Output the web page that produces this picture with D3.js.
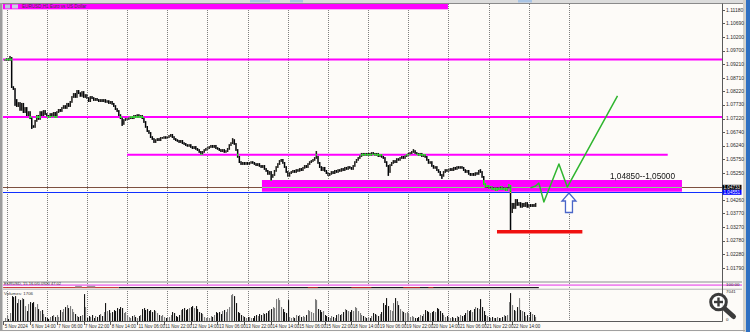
<!DOCTYPE html>
<html>
<head>
<meta charset="utf-8">
<title>EURUSD H1</title>
<script src="https://cdn.jsdelivr.net/npm/d3@7"></script>
<style>
  html, body { margin: 0; padding: 0; background: #fff; overflow: hidden; }
  svg { display: block; font-family: "Liberation Sans", Arial, sans-serif; }
</style>
</head>
<body>
<div id="chart"></div>
<script>
// H1 bars, bar index 0 = 6 Nov 00:00, the first bar drawn is index -1
const firstBar = -1;

const closes = [
  1.0936, 1.0939, 1.0936, 1.0943, 1.0837, 1.0830, 1.0790, 1.0768, 1.0779, 1.0754,
  1.0776, 1.0746, 1.0761, 1.0735, 1.0746, 1.0724, 1.0695, 1.0692, 1.0714, 1.0732,
  1.0721, 1.0746, 1.0735, 1.0750, 1.0739, 1.0732, 1.0728, 1.0739, 1.0732, 1.0743,
  1.0728, 1.0746, 1.0754, 1.0750, 1.0761, 1.0768, 1.0761, 1.0776, 1.0768, 1.0783,
  1.0801, 1.0812, 1.0801, 1.0823, 1.0815, 1.0805, 1.0819, 1.0801, 1.0808, 1.0797,
  1.0786, 1.0801, 1.0797, 1.0790, 1.0794, 1.0790, 1.0786, 1.0790, 1.0786, 1.0790,
  1.0783, 1.0786, 1.0779, 1.0783, 1.0776, 1.0768, 1.0757, 1.0750, 1.0735, 1.0724,
  1.0703, 1.0717, 1.0721, 1.0721, 1.0724, 1.0728, 1.0724, 1.0732, 1.0728, 1.0735,
  1.0728, 1.0732, 1.0724, 1.0710, 1.0692, 1.0677, 1.0670, 1.0655, 1.0648, 1.0637,
  1.0644, 1.0648, 1.0644, 1.0652, 1.0652, 1.0655, 1.0652, 1.0655, 1.0659, 1.0663,
  1.0655, 1.0648, 1.0644, 1.0641, 1.0637, 1.0641, 1.0633, 1.0630, 1.0626, 1.0623,
  1.0626, 1.0619, 1.0615, 1.0619, 1.0612, 1.0608, 1.0601, 1.0594, 1.0601, 1.0608,
  1.0612, 1.0615, 1.0619, 1.0623, 1.0619, 1.0623, 1.0615, 1.0612, 1.0608, 1.0604,
  1.0608, 1.0601, 1.0604, 1.0612, 1.0626, 1.0633, 1.0644, 1.0630, 1.0608, 1.0583,
  1.0564, 1.0557, 1.0561, 1.0557, 1.0561, 1.0557, 1.0561, 1.0564, 1.0561, 1.0557,
  1.0553, 1.0557, 1.0550, 1.0546, 1.0550, 1.0539, 1.0532, 1.0521, 1.0528, 1.0510,
  1.0517, 1.0532, 1.0546, 1.0557, 1.0568, 1.0572, 1.0561, 1.0546, 1.0528, 1.0514,
  1.0524, 1.0528, 1.0532, 1.0528, 1.0535, 1.0532, 1.0539, 1.0535, 1.0543, 1.0550,
  1.0546, 1.0557, 1.0564, 1.0568, 1.0572, 1.0579, 1.0583, 1.0561, 1.0546, 1.0535,
  1.0543, 1.0532, 1.0524, 1.0517, 1.0521, 1.0528, 1.0524, 1.0532, 1.0528, 1.0535,
  1.0532, 1.0539, 1.0535, 1.0543, 1.0539, 1.0546, 1.0543, 1.0539, 1.0550, 1.0564,
  1.0572, 1.0579, 1.0586, 1.0594, 1.0590, 1.0594, 1.0590, 1.0594, 1.0590, 1.0597,
  1.0594, 1.0590, 1.0594, 1.0586, 1.0590, 1.0583, 1.0579, 1.0564, 1.0550, 1.0528,
  1.0553, 1.0561, 1.0568, 1.0564, 1.0575, 1.0572, 1.0579, 1.0583, 1.0579, 1.0586,
  1.0590, 1.0594, 1.0597, 1.0601, 1.0604, 1.0597, 1.0594, 1.0590, 1.0594, 1.0586,
  1.0590, 1.0583, 1.0572, 1.0561, 1.0564, 1.0550, 1.0543, 1.0546, 1.0535, 1.0528,
  1.0517, 1.0514, 1.0528, 1.0535, 1.0532, 1.0535, 1.0539, 1.0535, 1.0543, 1.0539,
  1.0546, 1.0543, 1.0546, 1.0543, 1.0535, 1.0528, 1.0532, 1.0521, 1.0517, 1.0521,
  1.0517, 1.0524, 1.0521, 1.0532, 1.0528, 1.0510, 1.0484, 1.0473, 1.0477, 1.0470,
  1.0473, 1.0466, 1.0470, 1.0462, 1.0470, 1.0466, 1.0473, 1.0466, 1.0470, 1.0462,
  1.0470, 1.0477, 1.0382, 1.0412, 1.0397, 1.0426, 1.0408, 1.0415, 1.0401, 1.0412,
  1.0404, 1.0415, 1.0401, 1.0408, 1.0404, 1.0408, 1.0404, 1.0412
];

// tick volumes, same bars as closes
const volumes = [
  675, 1125, 450, 1800, 5625, 5400, 5625, 4050, 4950, 4725,
  5175, 4950, 3375, 2250, 3825, 4275, 4050, 4275, 3150, 3825,
  2700, 2250, 2475, 1575, 900, 675, 450, 900, 1125, 1350,
  900, 1350, 900, 2475, 2025, 2700, 3150, 3600, 2925, 3375,
  2700, 2025, 1575, 1125, 900, 1125, 1350, 6075, 3150, 675,
  1125, 900, 1350, 675, 1125, 900, 1350, 1575, 1125, 2025,
  4050, 2250, 2475, 1800, 2025, 2475, 2250, 2925, 2700, 3150,
  2925, 1800, 2025, 1350, 900, 675, 1125, 1350, 900, 675,
  1125, 1350, 2700, 2925, 2475, 2700, 2250, 2475, 2025, 2475,
  2250, 1800, 1350, 1125, 1350, 900, 675, 675, 900, 1350,
  2025, 1800, 1125, 900, 1350, 2475, 2700, 2925, 2475, 2700,
  2925, 3150, 3375, 2925, 3375, 2700, 2025, 1800, 1575, 900,
  675, 900, 675, 1125, 900, 1350, 2025, 1800, 2025, 1575,
  2250, 2475, 2025, 2700, 3150, 5850, 6075, 5625, 4050, 2025,
  1800, 1350, 1125, 900, 675, 900, 900, 675, 675, 1125,
  1350, 1125, 1575, 1350, 1800, 1575, 1800, 2250, 2475, 2700,
  3150, 2925, 4950, 5175, 4725, 3150, 2700, 2025, 1800, 4725,
  900, 675, 900, 675, 1350, 1125, 1350, 900, 1125, 900,
  1350, 2475, 2250, 2025, 1800, 4950, 4725, 2700, 2475, 2025,
  2250, 1350, 1125, 900, 675, 1125, 900, 675, 1350, 1575,
  1350, 1575, 2025, 2700, 2475, 2250, 2025, 2475, 2250, 3150,
  2925, 2250, 1800, 1350, 1125, 900, 675, 900, 675, 1125,
  1800, 1575, 1350, 1125, 1575, 2025, 4050, 3600, 5175, 3375,
  2475, 2250, 4050, 5175, 4500, 3600, 2700, 2250, 2025, 1800,
  2025, 1575, 900, 1125, 900, 675, 675, 900, 1350, 1125,
  1575, 2475, 2250, 2025, 1800, 2025, 2250, 2025, 2925, 2700,
  2250, 1800, 1350, 900, 1125, 900, 675, 900, 675, 675,
  1125, 900, 1350, 1125, 1350, 1800, 2475, 2250, 2475, 2025,
  2700, 3150, 2925, 2700, 4950, 3150, 2250, 1350, 1125, 900,
  675, 900, 675, 675, 900, 675, 675, 900, 1350, 1125,
  1350, 4275, 6300, 3600, 2475, 2250, 3150, 5175, 2475, 2250,
  2025, 1125, 1350, 900, 2025, 1575, 1350, 900
];

// long wicks: [bar, extreme price]
const wicks = [
  [2, 1.0947], [5, 1.0772], [15, 1.0688], [69, 1.0699], [135, 1.0648],
  [158, 1.0499], [185, 1.0601], [228, 1.0517], [243, 1.0608], [260, 1.0506],
  [283, 1.0535], [300, 1.0481], [301, 1.0317]
];

const priceTicks = [
  1.11180, 1.10690, 1.10200, 1.09700, 1.09210, 1.08710, 1.08220, 1.07730, 1.07220, 1.06740,
  1.06240, 1.05750, 1.05250, 1.04750, 1.04260, 1.03770, 1.03270, 1.02780, 1.02280, 1.01790
];

const timeLabels = [
  '5 Nov 2024', '6 Nov 14:00', '7 Nov 06:00', '7 Nov 22:00', '8 Nov 14:00',
  '11 Nov 06:00', '11 Nov 22:00', '12 Nov 14:00', '13 Nov 06:00', '13 Nov 22:00',
  '14 Nov 14:00', '15 Nov 06:00', '15 Nov 22:00', '18 Nov 14:00', '19 Nov 06:00',
  '19 Nov 22:00', '20 Nov 14:00', '21 Nov 06:00', '21 Nov 22:00', '22 Nov 14:00'
];
const timeLabelFirstBar = -2;
const timeLabelEvery = 16;

// period separators (midnight), in bars
const daySeparators = [0, 24, 48, 72, 96, 120, 144, 168, 192, 216, 240, 264, 288, 312, 336];

// objects drawn on the chart
const fullLevels = [1.09374, 1.07281];
const midLevel = { from: 72, to: 395, price: 1.05905 };
const zone = { from: 152.6, to: 403.5, top: 1.04988, bottom: 1.04562 };
const topBand = { from: -2.1, to: 263.7, top: 1.11413, bottom: 1.11201 };
const bidLevel = 1.04722, askLevel = 1.04540;
const bidText = '1.04733', askText = '1.04551';
const redLevel = { from: 293, to: 344, price: 1.03103 };
const planBars = [313, 316, 318, 321, 330, 335, 365];
const planPrices = [1.0470, 1.0477, 1.0488, 1.0419, 1.0557, 1.0473, 1.0805];
const arrowTip = { bar: 336, price: 1.04515 };
const zoneLabel = { bar: 360.5, price: 1.0504, text: '1,04850--1,05000' };

// indicator strip segments, in bars
const indRed = [[-2, 67], [180, 186], [206, 218], [237, 247], [252, 255]];
const indBlack = [[67, 318]];
const indGray = [[41, 45], [48, 53]];

const W = 750, H = 332;
const L = 3, R = 722;
const mainTop = 4, mainBot = 281;
const volTop = 290, volBot = 321;
const bg = '#fdfbf8';

const x = d3.scaleLinear().domain([0, 24]).range([6.5, 6.5 + 24 * 1.674]);
const y = d3.scaleLinear().domain([1.1154, 1.0154]).range([0, 274.73]);
const yv = d3.scaleLinear().domain([0, 7000]).range([volBot, volTop]);

const svg = d3.select('#chart').append('svg')
  .attr('width', W).attr('height', H)
  .attr('viewBox', [0, 0, W, H]);

svg.append('rect').attr('width', W).attr('height', H).attr('fill', bg);

// window frame bits
svg.append('rect').attr('x', 0).attr('y', 0).attr('width', W).attr('height', 3).attr('fill', '#dcdcdc');
[[250, 270], [290, 303], [518, 532]].forEach(([a, b]) => {
  svg.append('rect').attr('x', a).attr('y', 0).attr('width', b - a).attr('height', 2.5).attr('fill', '#a9c4e4');
});
svg.append('line').attr('x1', 0).attr('x2', 745).attr('y1', 3.5).attr('y2', 3.5).attr('stroke', '#8a8a8a');
svg.append('rect').attr('x', 0).attr('y', 3).attr('width', 2.5).attr('height', 328).attr('fill', '#9c9c9c');
svg.append('rect').attr('x', 743).attr('y', 0).attr('width', 3).attr('height', H).attr('fill', '#d4d2cc');
svg.append('rect').attr('x', 746).attr('y', 0).attr('width', 4).attr('height', H).attr('fill', '#2f70c2');
svg.append('line').attr('x1', 0).attr('x2', 745).attr('y1', 330.5).attr('y2', 330.5).attr('stroke', '#a0a0a0');

svg.append('clipPath').attr('id', 'main-clip')
  .append('rect').attr('x', L).attr('y', mainTop).attr('width', R - L).attr('height', mainBot - mainTop);

// the main pane is its own group, so it gets its own background for the candle blend
const main = svg.append('g').attr('clip-path', 'url(#main-clip)');
main.append('rect').attr('x', L).attr('y', mainTop).attr('width', R - L).attr('height', mainBot - mainTop)
  .attr('fill', bg);

const sepLine = sel => sel
  .attr('x1', d => Math.round(x(d)) + 0.5).attr('x2', d => Math.round(x(d)) + 0.5)
  .attr('stroke', '#7e7e7e').attr('stroke-dasharray', '1,1');

main.append('g').selectAll('line').data(daySeparators).join('line')
  .call(sepLine).attr('y1', mainTop).attr('y2', mainBot);

// magenta objects
main.append('rect')
  .attr('x', x(zone.from)).attr('width', x(zone.to) - x(zone.from))
  .attr('y', y(zone.top)).attr('height', y(zone.bottom) - y(zone.top))
  .attr('fill', '#ff00ff');
main.append('rect')
  .attr('x', L).attr('width', x(topBand.to) - L)
  .attr('y', y(topBand.top)).attr('height', y(topBand.bottom) - y(topBand.top))
  .attr('fill', '#ff00ff');
main.selectAll('.lvl').data(fullLevels).join('line').attr('class', 'lvl')
  .attr('x1', L).attr('x2', R).attr('y1', d => y(d)).attr('y2', d => y(d))
  .attr('stroke', '#ff00ff').attr('stroke-width', 2);
main.append('line')
  .attr('x1', x(midLevel.from)).attr('x2', x(midLevel.to))
  .attr('y1', y(midLevel.price)).attr('y2', y(midLevel.price))
  .attr('stroke', '#ff00ff').attr('stroke-width', 2);

// bid / ask lines
const bidY = Math.round(y(bidLevel)) + 0.5, askY = Math.round(y(askLevel)) + 0.5;
main.append('line').attr('x1', L).attr('x2', R).attr('y1', bidY).attr('y2', bidY).attr('stroke', '#7d5040');
main.append('line').attr('x1', x(zone.from)).attr('x2', x(zone.to)).attr('y1', bidY).attr('y2', bidY)
  .attr('stroke', '#86d486');
main.append('line').attr('x1', L).attr('x2', R).attr('y1', askY).attr('y2', askY).attr('stroke', '#1030ff');

// candles
const bars = closes.map((c, k) => {
  const o = k ? closes[k - 1] : c;
  return { i: firstBar + k, o, c, hi: Math.max(o, c), lo: Math.min(o, c), v: volumes[k] };
});
wicks.forEach(([i, p]) => {
  const b = bars[i - firstBar];
  b.hi = Math.max(b.hi, p);
  b.lo = Math.min(b.lo, p);
});

main.append('g').style('mix-blend-mode', 'difference')
  .selectAll('rect').data(bars).join('rect')
  .attr('x', d => x(d.i) - 0.6)
  .attr('width', 1.5)
  .attr('y', d => y(d.hi) - 0.9)
  .attr('height', d => y(d.lo) - y(d.hi) + 1.8)
  .attr('fill', d => d.c < d.o ? '#ffffff' : '#dcdcdc');

// hand drawn plan
main.append('line')
  .attr('x1', x(redLevel.from)).attr('x2', x(redLevel.to))
  .attr('y1', y(redLevel.price)).attr('y2', y(redLevel.price))
  .attr('stroke', '#f01010').attr('stroke-width', 3.5);

main.append('path')
  .datum(planBars.map((b, k) => [b, planPrices[k]]))
  .attr('d', d3.line().x(d => x(d[0])).y(d => y(d[1])))
  .attr('fill', 'none').attr('stroke', '#2fb52f').attr('stroke-width', 1.5)
  .attr('stroke-linejoin', 'round');

const tx = x(arrowTip.bar), ty = y(arrowTip.price);
main.append('path')
  .attr('d', `M${tx},${ty} L${tx + 7},${ty + 8} L${tx + 3.5},${ty + 8} L${tx + 3.5},${ty + 19.5}
    L${tx - 3.5},${ty + 19.5} L${tx - 3.5},${ty + 8} L${tx - 7},${ty + 8} Z`)
  .attr('fill', '#ffffff').attr('stroke', '#4a66c8').attr('stroke-width', 1.3);

main.append('text')
  .attr('x', x(zoneLabel.bar)).attr('y', y(zoneLabel.price))
  .attr('font-size', 8.5).attr('fill', '#111')
  .attr('textLength', 65).attr('lengthAdjust', 'spacingAndGlyphs')
  .text(zoneLabel.text);

// chart title over the top band
svg.append('rect').attr('x', 5).attr('y', 4.5).attr('width', 5).attr('height', 4).attr('fill', '#b8c8d8');
svg.append('rect').attr('x', 12).attr('y', 4.5).attr('width', 6).attr('height', 4).attr('fill', '#c8d0e0');
svg.append('text').attr('x', 22).attr('y', 8.4).attr('font-size', 4.6).attr('fill', '#3a3a3a')
  .text('EURUSD,H1  Euro vs US Dollar');

// separators through the lower panes
svg.append('g').selectAll('line').data(daySeparators).join('line')
  .call(sepLine).attr('y1', mainBot).attr('y2', volBot);

// indicator strip
svg.append('rect').attr('x', L).attr('y', mainBot).attr('width', 742 - L).attr('height', 2).attr('fill', '#c4c4c4');
svg.append('rect').attr('x', L).attr('y', 284.3).attr('width', 742 - L).attr('height', 1.6).attr('fill', '#ee7cee');
svg.append('text').attr('x', 4).attr('y', 284.6).attr('font-size', 4).attr('fill', '#333')
  .text('EURUSD, 15.16.0/0.0920 47.02');
const indY = 287.6;
svg.append('g').selectAll('line').data(indBlack).join('line')
  .attr('x1', d => x(d[0])).attr('x2', d => x(d[1])).attr('y1', indY).attr('y2', indY)
  .attr('stroke', '#1a1a1a').attr('stroke-width', 1.4);
svg.append('g').selectAll('line').data(indRed).join('line')
  .attr('x1', d => x(d[0])).attr('x2', d => x(d[1])).attr('y1', indY).attr('y2', indY)
  .attr('stroke', '#c02828').attr('stroke-width', 1);
svg.append('g').selectAll('line').data(indGray).join('line')
  .attr('x1', d => x(d[0])).attr('x2', d => x(d[1])).attr('y1', indY - 1).attr('y2', indY - 1)
  .attr('stroke', '#9a9a9a').attr('stroke-width', 1.5);
svg.append('rect').attr('x', L).attr('y', 288.6).attr('width', 742 - L).attr('height', 1.4).attr('fill', '#c8c8c8');

// volumes
svg.append('g').selectAll('rect').data(bars).join('rect')
  .attr('x', d => Math.round(x(d.i)))
  .attr('width', 1.1)
  .attr('y', d => yv(d.v))
  .attr('height', d => volBot - yv(d.v))
  .attr('fill', d => d.c < d.o ? '#151515' : '#7c7c7c');
svg.append('text').attr('x', 4).attr('y', 294.6).attr('font-size', 4.4).attr('fill', '#333')
  .text('Volumes: 1706');

// right price axis
svg.append('line').attr('x1', R + 0.5).attr('x2', R + 0.5).attr('y1', 3.5).attr('y2', volBot + 0.5)
  .attr('stroke', '#5a5a5a');
// the tick hidden behind the bid/ask badges is not drawn
const visibleTicks = priceTicks.filter(p => Math.abs(y(p) - y(bidLevel)) > 4 && Math.abs(y(p) - y(askLevel)) > 4);
const ax = svg.append('g');
ax.selectAll('line').data(visibleTicks).join('line')
  .attr('x1', R + 0.5).attr('x2', R + 3).attr('y1', d => Math.round(y(d)) + 0.5).attr('y2', d => Math.round(y(d)) + 0.5)
  .attr('stroke', '#5a5a5a');
ax.selectAll('text').data(visibleTicks).join('text')
  .attr('x', R + 4).attr('y', d => y(d) + 1.8)
  .attr('font-size', 5).attr('fill', '#2a2a2a')
  .text(d => d.toFixed(5));

[[bidLevel, bidText, '#000000'], [askLevel, askText, '#0000ff']].forEach(([p, t, c]) => {
  svg.append('rect').attr('x', R + 0.5).attr('y', y(p) - 2.5).attr('width', 19).attr('height', 5).attr('fill', c);
  svg.append('text').attr('x', R + 1.5).attr('y', y(p) + 1.6).attr('font-size', 4.6).attr('fill', '#fff').text(t);
});

svg.append('text').attr('x', R + 4).attr('y', 285.8).attr('font-size', 4.4).attr('fill', '#2a2a2a').text('100.00');
svg.append('text').attr('x', R + 4).attr('y', 292.6).attr('font-size', 4.4).attr('fill', '#2a2a2a').text('7041');
svg.append('text').attr('x', R + 4).attr('y', 320.6).attr('font-size', 4.4).attr('fill', '#2a2a2a').text('0');

// time axis
svg.append('line').attr('x1', L).attr('x2', R + 0.5).attr('y1', volBot + 0.5).attr('y2', volBot + 0.5)
  .attr('stroke', '#5a5a5a');
const tl = svg.append('g');
tl.selectAll('line').data(timeLabels).join('line')
  .attr('x1', (d, k) => Math.round(x(timeLabelFirstBar + k * timeLabelEvery)) + 0.5)
  .attr('x2', (d, k) => Math.round(x(timeLabelFirstBar + k * timeLabelEvery)) + 0.5)
  .attr('y1', volBot + 0.5).attr('y2', volBot + 4)
  .attr('stroke', '#5a5a5a');
tl.selectAll('text').data(timeLabels).join('text')
  .attr('x', (d, k) => x(timeLabelFirstBar + k * timeLabelEvery) + 1.5)
  .attr('y', 327.6)
  .attr('font-size', 4.5).attr('fill', '#2a2a2a')
  .text(d => d);

// viewer magnifier overlay
const mg = svg.append('g').attr('stroke', '#3b3b3b').attr('fill', 'none');
mg.append('line').attr('x1', 724).attr('y1', 308).attr('x2', 733.5).attr('y2', 316.5)
  .attr('stroke-width', 5).attr('stroke-linecap', 'round');
mg.append('circle').attr('cx', 718.5).attr('cy', 302).attr('r', 7.8)
  .attr('stroke-width', 3).attr('fill', 'rgba(255,255,255,0.85)');
mg.append('line').attr('x1', 714).attr('x2', 723).attr('y1', 302).attr('y2', 302).attr('stroke-width', 2.4);
mg.append('line').attr('x1', 718.5).attr('x2', 718.5).attr('y1', 297.5).attr('y2', 306.5).attr('stroke-width', 2.4);
</script>
</body>
</html>
